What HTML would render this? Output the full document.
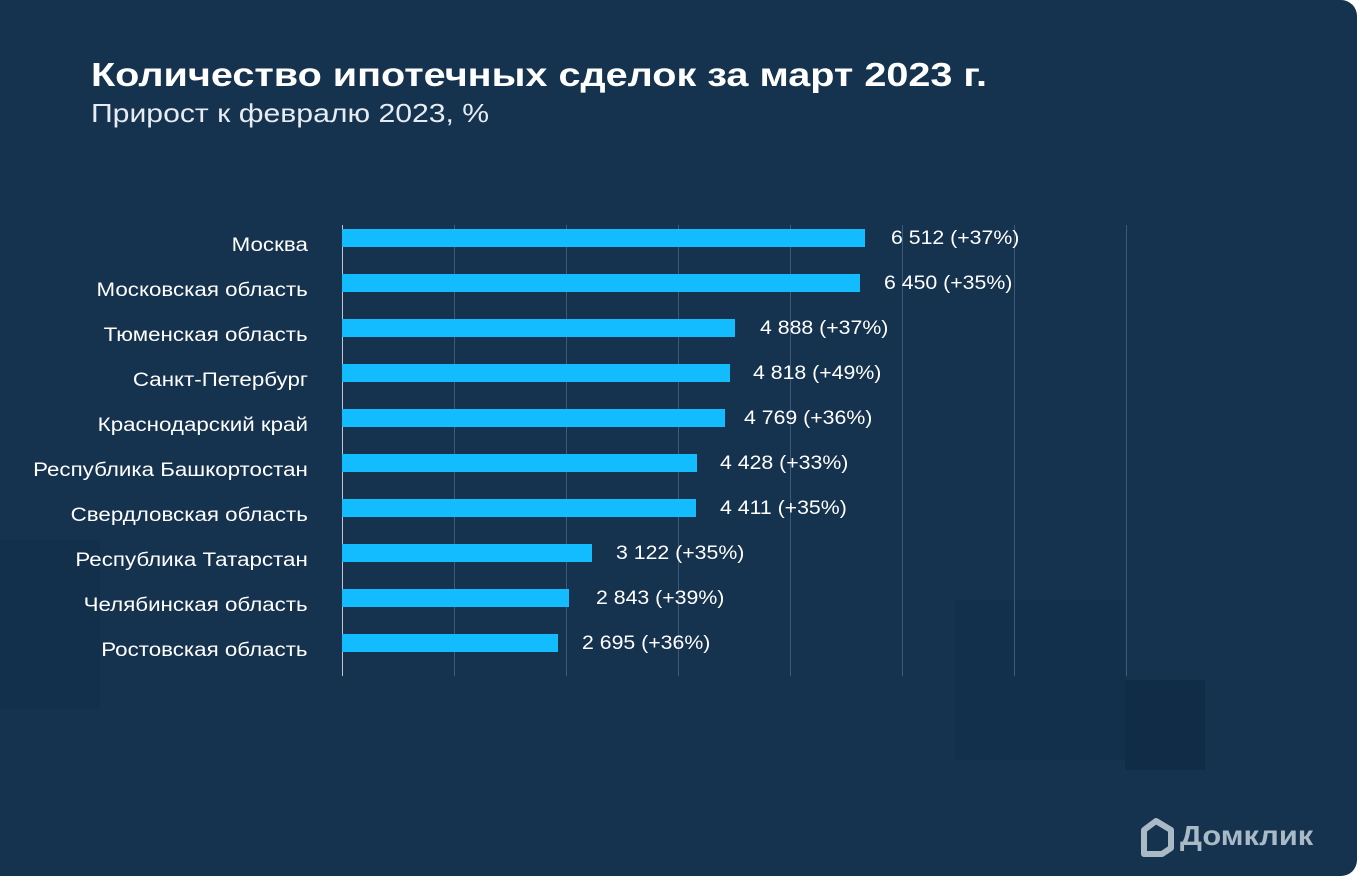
<!DOCTYPE html>
<html><head><meta charset="utf-8"><style>
body{margin:0;background:#fff;width:1357px;height:876px;overflow:hidden;font-family:"Liberation Sans",sans-serif}
#c{position:absolute;left:0;top:0;width:1357px;height:876px;background:#15324f;border-radius:0 16px 16px 0;overflow:hidden}
.t{position:absolute;left:91px;top:56px;color:#fff;font-weight:bold;font-size:33px;transform:scaleX(1.2);transform-origin:left}
.s{position:absolute;left:91px;top:98px;color:#e6ecf2;font-size:26px;transform:scaleX(1.16);transform-origin:left}
.g{position:absolute;top:225px;height:451px;width:1px;background:#3d5a78}
.b{position:absolute;left:342px;height:18px;background:#13bbff}
.l{position:absolute;right:1049px;color:#fff;font-size:19px;white-space:nowrap;transform:scaleX(1.175);transform-origin:right}
.v{position:absolute;color:#fff;font-size:19px;white-space:nowrap;transform:scaleX(1.12);transform-origin:left}
.bg{position:absolute;background:#12304b}
</style></head><body><div id="c">
<div class="bg" style="left:0;top:540px;width:100px;height:170px"></div>
<div class="bg" style="left:955px;top:600px;width:170px;height:160px"></div>
<div class="bg" style="left:1125px;top:680px;width:80px;height:90px;background:#102c46"></div>
<div class="t">Количество ипотечных сделок за март 2023 г.</div>
<div class="s">Прирост к февралю 2023, %</div>
<div class="g" style="left:342px;background:#c0c8d0"></div>
<div class="g" style="left:454px"></div><div class="g" style="left:566px"></div><div class="g" style="left:678px"></div><div class="g" style="left:790px"></div><div class="g" style="left:902px"></div><div class="g" style="left:1014px"></div><div class="g" style="left:1126px"></div>
<div class="b" style="top:229px;width:523px"></div>
<div class="b" style="top:274px;width:518px"></div>
<div class="b" style="top:319px;width:393px"></div>
<div class="b" style="top:364px;width:388px"></div>
<div class="b" style="top:409px;width:383px"></div>
<div class="b" style="top:454px;width:355px"></div>
<div class="b" style="top:499px;width:354px"></div>
<div class="b" style="top:544px;width:250px"></div>
<div class="b" style="top:589px;width:227px"></div>
<div class="b" style="top:634px;width:216px"></div>
<div class="l" style="top:235px">Москва</div>
<div class="l" style="top:280px">Московская область</div>
<div class="l" style="top:325px">Тюменская область</div>
<div class="l" style="top:370px">Санкт-Петербург</div>
<div class="l" style="top:415px">Краснодарский край</div>
<div class="l" style="top:460px">Республика Башкортостан</div>
<div class="l" style="top:505px">Свердловская область</div>
<div class="l" style="top:550px">Республика Татарстан</div>
<div class="l" style="top:595px">Челябинская область</div>
<div class="l" style="top:640px">Ростовская область</div>
<div class="v" style="left:891px;top:228px">6 512 (+37%)</div>
<div class="v" style="left:884px;top:273px">6 450 (+35%)</div>
<div class="v" style="left:760px;top:318px">4 888 (+37%)</div>
<div class="v" style="left:753px;top:363px">4 818 (+49%)</div>
<div class="v" style="left:744px;top:408px">4 769 (+36%)</div>
<div class="v" style="left:720px;top:453px">4 428 (+33%)</div>
<div class="v" style="left:720px;top:498px">4 411 (+35%)</div>
<div class="v" style="left:616px;top:543px">3 122 (+35%)</div>
<div class="v" style="left:596px;top:588px">2 843 (+39%)</div>
<div class="v" style="left:582px;top:633px">2 695 (+36%)</div>
<svg style="position:absolute;left:1138px;top:818px" width="36" height="40" viewBox="0 0 36 40"><path d="M18 3 L33 12 V30 L24 36 H6 V12 Z" fill="none" stroke="#a9b9c6" stroke-width="6" stroke-linejoin="round"/></svg>
<div style="position:absolute;left:1180px;top:820px;color:#a9b9c6;font-weight:bold;font-size:28px;transform:scaleX(1.1);transform-origin:left">Домклик</div>
</div></body></html>
